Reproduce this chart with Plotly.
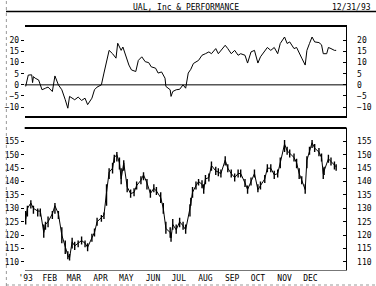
import plotly.graph_objects as go
import pandas as pd

# ---------------- data ----------------
start = "1993-01-04"
perf_day = [0, 3, 7, 8, 9, 11, 15, 19, 23, 26, 31, 34, 38, 42, 46, 48, 49, 51, 54, 57,
            61, 65, 69, 72, 77, 80, 83, 88, 91, 94, 97, 101, 105, 107, 111, 113, 117, 120, 123, 128,
            131, 135, 139, 143, 146, 151, 154, 158, 162, 163, 168, 169, 171, 175, 179, 183, 186, 189, 192, 195,
            201, 205, 209, 213, 216, 221, 224, 227, 232, 235, 239, 243, 247, 250, 255, 258, 262, 266, 270, 273,
            278, 281, 285, 289, 293, 296, 301, 304, 307, 312, 315, 318, 321, 325, 327, 330, 333, 336, 341, 344,
            346, 350, 352, 355, 359, 361]
perf_val = [-0.7, 4.4, 4.5, 1, 3.7, 3, 2.2, -2.2, -1.5, -1, -3, 4, 0, -2.2, -6.7, -9.6, -10.5, -5.2, -6, -6.7,
            -5.5, -7, -6, -8.9, -6, -2.2, -1, 0, 5.3, 11, 15.5, 14, 12, 18.7, 15.5, 17, 12, 8.9, 6.7, 6,
            11, 12.6, 10.4, 10, 8.1, 7.5, 5.3, 5.8, 3, -0.7, -2.2, -5.2, -3, -2.2, -2, 0, -1.5, 5.3, 7, 9.6,
            11, 13.3, 14, 14.8, 14, 16.3, 14, 15.5, 17.8, 16.3, 14, 15.5, 13.3, 14, 13.3, 9.8, 14.8, 15.5, 9.8, 12.6,
            15.5, 16.8, 15.5, 16.8, 14, 18.6, 21.5, 18.6, 19.3, 16.3, 16.8, 14, 12, 8.9, 15.5, 18.6, 21.5, 19.3, 19, 18,
            14, 14, 16.8, 16.3, 15.5, 15.5]

price_day = [0, 2, 6, 9, 14, 17, 21, 23, 26, 31, 34, 38, 42, 46, 49, 51, 54, 57, 61, 65,
             69, 72, 77, 80, 83, 88, 91, 94, 97, 101, 103, 106, 109, 111, 114, 118, 122, 126, 129, 134,
             137, 141, 145, 149, 152, 157, 160, 163, 168, 169, 171, 175, 179, 183, 186, 191, 192, 194, 198, 201,
             205, 207, 209, 213, 216, 221, 224, 227, 232, 235, 239, 243, 247, 250, 255, 258, 262, 266, 270, 273,
             278, 281, 285, 289, 293, 296, 301, 304, 307, 312, 315, 318, 321, 325, 327, 330, 333, 336, 341, 344,
             346, 347, 352, 355, 359, 361]
price_close = [126, 130, 132, 130, 129, 129, 121, 124, 125, 128,
               131, 128, 120, 116, 112.5, 111.5, 117.5, 116, 117, 118,
               117, 115.5, 119, 121, 125, 126.5, 127.5, 136, 143.5, 145,
               149, 150, 147, 141, 147, 138, 135.5, 136, 138.5, 140.5,
               142.5, 139.5, 135.5, 137.5, 136.5, 134, 130, 122.5, 121, 119,
               124, 122, 125, 123.5, 122, 130, 132.5, 136, 138.5, 140,
               139, 137, 141, 141.5, 146, 144, 143.5, 143, 148, 145,
               143, 141.5, 143, 143, 139.5, 137, 140, 143, 137, 138.5,
               141, 145, 145, 142.5, 143, 147, 154, 151.5, 150.5, 149,
               147, 143, 140.5, 137, 148, 151.5, 154.5, 152.5, 151, 149,
               143, 144, 148.5, 147.5, 146, 145.5]
price_high = [129, 131, 133, 131, 130, 130, 124, 125, 127, 129,
              132, 129, 123, 118, 114, 113, 119, 117.5, 118, 119.5,
              118, 117, 120.5, 122.5, 126.5, 127.5, 128.5, 139, 145, 147,
              150, 151, 149, 145, 148, 141, 137, 137.5, 140, 142,
              143.5, 141, 137, 139, 138, 136, 132, 125, 123, 121,
              126, 124, 126.5, 125, 124, 131.5, 134, 138, 140, 141,
              140.5, 139, 142.5, 143, 147.5, 145.5, 145, 144.5, 149.5, 146.5,
              144.5, 143, 144.5, 144.5, 141, 138.5, 141.5, 144.5, 139, 140,
              142.5, 146.5, 146.5, 144, 144.5, 149, 155.5, 153, 152, 150.5,
              148.5, 145, 142, 139, 149.5, 153, 155.5, 154, 152.5, 150.5,
              145, 145.5, 150, 149, 147.5, 146.5]
price_low = [124, 127, 130, 128, 127, 127, 119, 122, 123, 126,
             128, 126, 117, 113, 111, 110.5, 115, 114.5, 115.5, 116.5,
             115.5, 114, 117.5, 119.5, 123.5, 125, 126, 131, 141, 143,
             147, 147.5, 144.5, 139, 144, 136, 134, 134.5, 137, 139,
             140.5, 137, 134, 136, 135, 132, 128, 120.5, 119, 117.5,
             122, 120.5, 123, 122, 120.5, 127, 131, 134, 137, 138.5,
             137.5, 135.5, 139, 140, 144, 142.5, 142, 141.5, 146, 143.5,
             141.5, 140, 141.5, 141.5, 138, 135.5, 138.5, 141.5, 136, 137,
             139.5, 143.5, 143.5, 141, 141.5, 145, 151, 150, 149, 147.5,
             145, 141, 139, 135.5, 145, 150, 152.5, 151, 149.5, 147.5,
             141, 142.5, 147, 146, 144.5, 144]

month_ticks = ["1993-01-04", "1993-02-01", "1993-03-01", "1993-04-01", "1993-05-01", "1993-06-01",
               "1993-07-01", "1993-08-01", "1993-09-01", "1993-10-01", "1993-11-01", "1993-12-01"]
month_labels = ["'93", "FEB", "MAR", "APR", "MAY", "JUN", "JUL", "AUG", "SEP", "OCT", "NOV", "DEC"]
perf_ticks = [20, 15, 10, 5, 0, -5, -10]
price_ticks = [155, 150, 145, 140, 135, 130, 125, 120, 115, 110]

title_text = "UAL, Inc & PERFORMANCE"
date_text = "12/31/93"

# ---------------- figure ----------------
t0 = pd.Timestamp(start)
perf_x = [t0 + pd.Timedelta(days=d) for d in perf_day]
price_x = [t0 + pd.Timedelta(days=d) for d in price_day]

FONT = "DejaVu Sans Mono"
fig = go.Figure()
fig.add_trace(go.Scatter(x=perf_x, y=perf_val, mode="lines",
                         line=dict(color="black", width=1), xaxis="x", yaxis="y"))
# daily bars: close path plus high-low bars
fig.add_trace(go.Scatter(x=price_x, y=price_close, mode="lines",
                         line=dict(color="black", width=1), xaxis="x2", yaxis="y3", hoverinfo="skip"))
fig.add_trace(go.Ohlc(x=price_x, open=price_close, high=price_high, low=price_low, close=price_close,
                      increasing=dict(line=dict(color="black", width=1.4)),
                      decreasing=dict(line=dict(color="black", width=1.4)),
                      tickwidth=0.3, xaxis="x2", yaxis="y3"))

xr = ["1993-01-02 20:00", "1994-01-12 00:00"]
dom_x = [19 / 376, 346 / 376]
dom_top = [1 - 116 / 286, 1 - 27 / 286]
dom_bot = [1 - 270 / 286, 1 - 128 / 286]
tf = dict(family=FONT, size=8, color="black")

common_y = dict(showgrid=False, zeroline=False, tickfont=tf, ticklen=3, tickwidth=1, tickcolor="black")
fig.update_layout(
    width=376, height=286, margin=dict(l=0, r=0, t=0, b=0),
    paper_bgcolor="white", plot_bgcolor="white", showlegend=False,
    xaxis=dict(domain=dom_x, range=xr, type="date", anchor="y", showticklabels=False, ticks="",
               showgrid=False, zeroline=False, showline=True, linecolor="black", linewidth=2, mirror=True),
    xaxis2=dict(domain=dom_x, range=xr, type="date", anchor="y3", showgrid=False, zeroline=False,
                tickmode="array", tickvals=month_ticks, ticktext=month_labels, tickfont=tf, ticks="",
                showline=True, linecolor="#777777", linewidth=1, rangeslider=dict(visible=False)),
    yaxis=dict(domain=dom_top, range=[-14, 26], anchor="x", tickvals=perf_ticks, ticks="outside", **common_y),
    yaxis2=dict(domain=dom_top, range=[-14, 26], anchor="x", overlaying="y", side="right", tickvals=perf_ticks,
                ticks="inside", ticklabelstandoff=8, showline=True, linecolor="black", linewidth=1, **common_y),
    yaxis3=dict(domain=dom_bot, range=[107, 160], anchor="x2", tickvals=price_ticks, ticks="outside", **common_y),
    yaxis4=dict(domain=dom_bot, range=[107, 160], anchor="x2", overlaying="y3", side="right", tickvals=price_ticks,
                ticks="inside", ticklabelstandoff=8, showline=True, linecolor="black", linewidth=1, **common_y),
)
# dummy traces to activate the right axes
fig.add_trace(go.Scatter(x=[perf_x[0]], y=[perf_val[0]], mode="markers", marker=dict(opacity=0),
                         xaxis="x", yaxis="y2", hoverinfo="skip"))
fig.add_trace(go.Scatter(x=[price_x[0]], y=[price_close[0]], mode="markers", marker=dict(opacity=0),
                         xaxis="x2", yaxis="y4", hoverinfo="skip"))

# zero line in top panel
fig.add_shape(type="line", xref="x domain", yref="y", x0=0, x1=1, y0=0, y1=0,
              line=dict(color="black", width=1))
# thick top border of lower panel
fig.add_shape(type="line", xref="x2 domain", yref="y3 domain", x0=0, x1=1, y0=1, y1=1,
              line=dict(color="black", width=2))
# header rule
fig.add_shape(type="line", xref="paper", yref="paper", x0=0, x1=1, y0=1 - 11.5 / 286, y1=1 - 11.5 / 286,
              line=dict(color="black", width=1.5))
# left and bottom dotted frame
fig.add_shape(type="line", xref="paper", yref="paper", x0=0.001, x1=0.001, y0=0, y1=1,
              line=dict(color="#999999", width=1, dash="dot"))
fig.add_shape(type="line", xref="paper", yref="paper", x0=0, x1=1, y0=1 / 286, y1=1 / 286,
              line=dict(color="#999999", width=1, dash="dot"))

fig.add_annotation(text=title_text, xref="paper", yref="paper", x=183 / 376, y=1 - 1 / 286,
                   xanchor="center", yanchor="top", showarrow=False, font=tf)
fig.add_annotation(text=date_text, xref="paper", yref="paper", x=373 / 376, y=1 - 1 / 286,
                   xanchor="right", yanchor="top", showarrow=False, font=tf)

fig.write_html("out.html")
